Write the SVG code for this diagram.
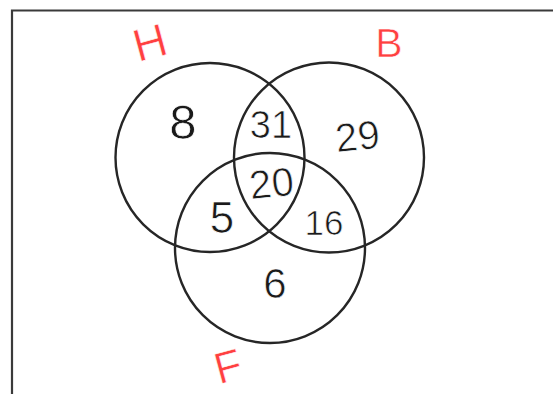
<svg xmlns="http://www.w3.org/2000/svg" width="553" height="394" viewBox="0 0 553 394">
<style>
.c{fill:none;stroke:#262626;stroke-width:2.4}
.n{font-family:"Liberation Sans",Arial,sans-serif;fill:#1a1a1a;text-anchor:middle;stroke:#ffffff;stroke-width:0.7}
.l{font-family:"Liberation Sans",Arial,sans-serif;fill:#ff4040;text-anchor:middle;stroke:#ffffff;stroke-width:0.6}
</style>
<rect width="553" height="394" fill="#ffffff"/>
<path d="M12 394 V10.5 H553" fill="none" stroke="#3a3a3a" stroke-width="2.2"/>
<g id="H"><circle class="c" cx="210" cy="157.5" r="94.5"/></g>
<g id="B"><circle class="c" cx="329" cy="157.5" r="95"/></g>
<g id="F"><circle class="c" cx="270" cy="248" r="95"/></g>
<g id="connectors"></g>
<g id="labels">
<text class="l" font-size="46" transform="translate(154 58) rotate(-15)">H</text>
<text class="l" font-size="41" x="389" y="57">B</text>
<text class="l" font-size="44" transform="translate(232 381) rotate(-15)">F</text>
</g>
<g id="numbers">
<text class="n" font-size="49" x="183" y="139">8</text>
<text class="n" font-size="38" x="271" y="138">31</text>
<text class="n" font-size="40" transform="translate(359 150) rotate(-6)">29</text>
<text class="n" font-size="40" transform="translate(273 197) rotate(-6)">20</text>
<text class="n" font-size="44" x="222" y="233">5</text>
<text class="n" font-size="35" x="324" y="235">16</text>
<text class="n" font-size="42" x="275" y="298">6</text>
</g>
</svg>
